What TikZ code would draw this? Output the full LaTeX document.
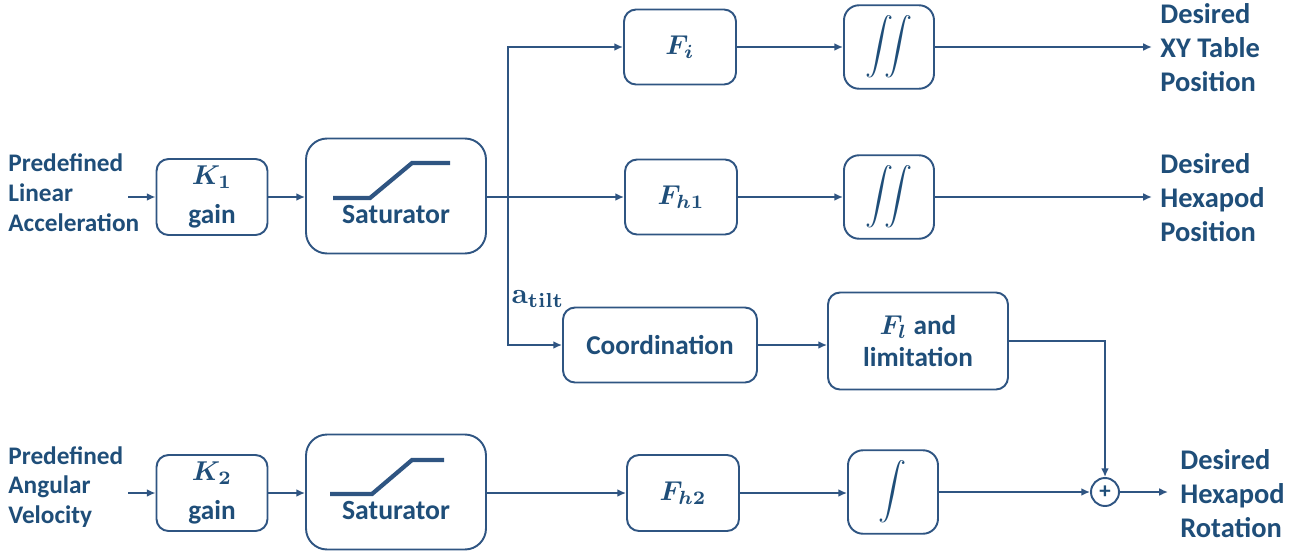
\documentclass[tikz,border=0pt]{standalone}
\usepackage{amsmath}
\usepackage{bm}
\usepackage[no-math]{fontspec}
\setmainfont{Carlito}
\usetikzlibrary{arrows.meta}
\definecolor{tc}{RGB}{31,78,121}
\definecolor{lc}{RGB}{47,85,130}
\newcommand{\bigmath}[1]{\scalebox{1.55}{\normalsize$#1$}}
\newcommand{\intsym}[1]{\scalebox{1.6}{\normalsize$\displaystyle#1$}}
\begin{document}
\begin{tikzpicture}[x=0.02cm,y=-0.02cm,
 blk/.style={draw=lc, line width=1.1pt, rounded corners=0.24cm, text=tc, align=center, font=\bfseries\fontsize{15.5}{20}\selectfont, inner sep=0pt},
 satbox/.style={blk, minimum width=3.6cm, minimum height=2.3cm, rounded corners=0.42cm},
 intbox/.style={blk, minimum width=1.8cm, minimum height=1.67cm, rounded corners=0.3cm},
 fbox/.style={blk, minimum width=2.24cm, minimum height=1.5cm},
 arr/.style={draw=lc, line width=1.1pt, -{Latex[length=5pt,width=4.5pt]}},
 satcurve/.style={draw=lc, line width=2.4pt},
 txt/.style={text=tc, font=\bfseries\fontsize{15.8}{20}\selectfont, inner sep=0pt},
 lbl/.style={text=tc, align=left, font=\bfseries\fontsize{14.4}{17}\selectfont, inner sep=0pt, anchor=west},
 outlbl/.style={text=tc, align=left, font=\bfseries\fontsize{16.2}{19.3}\selectfont, inner sep=0pt, anchor=west},
]
\useasboundingbox (0,0) rectangle (1296,555);

% blocks
\node[blk, minimum width=2.22cm, minimum height=1.52cm] (k1) at (212,197) {\bigmath{\bm{K}_{\bm{1}}}\\[2pt]gain};
\node[satbox] (s1) at (396,196) {};
\node[txt] (s1t) at (396,214) {Saturator};
\draw[satcurve] (333,198) -- (370,198) -- (412,163) -- (450,163);

\node[fbox] (fi) at (680,47) {\bigmath{\bm{F}_{\bm{i}}}};
\node[intbox] (int1) at (889,47) {\intsym{\iint}};
\node[fbox] (fh1) at (681,197) {\bigmath{\bm{F}_{\bm{h1}}}};
\node[intbox] (int2) at (889,197) {\intsym{\iint}};

\node[blk, minimum width=3.88cm, minimum height=1.5cm] (co) at (660,345) {Coordination};
\node[blk, minimum width=3.6cm, minimum height=1.94cm, font=\bfseries\fontsize{15.5}{18}\selectfont] (fl) at (918,341) {\bigmath{\bm{F}_{\bm{l}}} and\\limitation};

\node[blk, minimum width=2.22cm, minimum height=1.52cm] (k2) at (212,493) {\bigmath{\bm{K}_{\bm{2}}}\\[2pt]gain};
\node[satbox] (s2) at (396,492) {};
\node[txt] (s2t) at (396,510) {Saturator};
\draw[satcurve] (330,494) -- (372,494) -- (412,460) -- (444,460);

\node[fbox, minimum height=1.52cm] (fh2) at (683,493) {\bigmath{\bm{F}_{\bm{h2}}}};
\node[intbox] (int3) at (893,492) {\intsym{\int}};

\node[draw=lc, circle, line width=1.1pt, minimum size=0.56cm, inner sep=0pt, text=tc, font=\bfseries\fontsize{13}{13}\selectfont] (sum) at (1105,492) {+};

% labels
\node[lbl] (tlin) at (8,193) {Predefined\\Linear\\Acceleration};
\node[lbl] (tang) at (8,487) {Predefined\\Angular\\Velocity};
\node[outlbl] (to1) at (1160,48) {Desired\\XY Table\\Position};
\node[outlbl] (to2) at (1160,198) {Desired\\Hexapod\\Position};
\node[outlbl] (to3) at (1180,494) {Desired\\Hexapod\\Rotation};
\node[text=tc, inner sep=0pt] (atilt) at (538,299) {\scalebox{1.65}{\normalsize$\mathbf{a}_{\mathbf{tilt}}$}};

% coordinates
\coordinate (i1) at (128,197);
\coordinate (i2) at (128,493);
\coordinate (br) at (508,197);
\coordinate (o1) at (1152,47);
\coordinate (o2) at (1152,197);
\coordinate (o3) at (1168,492);
\coordinate (fc) at (1105,341);

% connectors
\draw[arr] (i1) -- (k1);
\draw[arr] (k1) -- (k1 -| s1.west);
\draw[arr] (s1.east |- br) -- (fh1.west |- br);
\draw[arr] (br) |- (fi.west);
\draw[arr] (br) |- (co.west);
\draw[arr] (fi) -- (int1);
\draw[arr] (int1) -- (o1);
\draw[arr] (fh1) -- (int2);
\draw[arr] (int2) -- (o2);
\draw[arr] (co.east) -- (co.east -| fl.west);
\draw[arr] (fl.east |- fc) -- (fc) -- (sum.north);

\draw[arr] (i2) -- (k2);
\draw[arr] (k2) -- (k2 -| s2.west);
\draw[arr] (s2.east |- fh2) -- (fh2.west);
\draw[arr] (fh2) -- (fh2 -| int3.west);
\draw[arr] (int3) -- (sum);
\draw[arr] (sum) -- (o3);
\end{tikzpicture}
\end{document}
